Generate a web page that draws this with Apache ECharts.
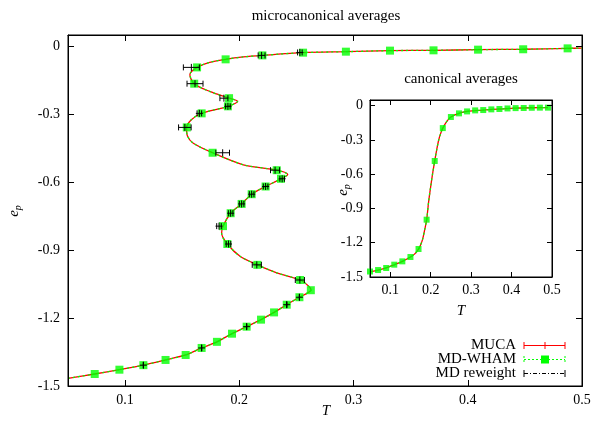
<!DOCTYPE html>
<html><head><meta charset="utf-8">
<script src="https://cdn.jsdelivr.net/npm/echarts@6/dist/echarts.min.js"></script>
<style>html,body{margin:0;padding:0;background:#fff}#c{width:594px;height:425px}</style>
</head><body><div id="c"></div>
<script>
// ---- tick labels ----
const xTicks = [0.1, 0.2, 0.3, 0.4, 0.5];
const xTickLabels = ['0.1', '0.2', '0.3', '0.4', '0.5'];
const yTicks = [-1.5, -1.2, -0.9, -0.6, -0.3, 0];
const yTickLabels = ['-1.5', '-1.2', '-0.9', '-0.6', '-0.3', '0'];

// ---- microcanonical: MUCA curve (T, e_p) ----
const mucaT = [0.050,0.0734,0.095,0.116,0.1354,0.153,0.167,0.1804,0.1936,0.2064,0.219,0.2304,0.2415,0.2526,0.2595,0.2628,0.2605,0.2532,0.2327,0.2158,0.2006,0.1895,0.1845,0.1857,0.1924,0.202,0.2108,0.223,0.2365,0.2424,0.2327,0.2035,0.1766,0.1597,0.1545,0.1538,0.158,0.167,0.190,0.1985,0.191,0.174,0.1605,0.1567,0.163,0.174,0.188,0.2035,0.2202,0.2558,0.2933,0.3319,0.370,0.409,0.4485,0.4874,0.500];
const mucaE = [-1.466,-1.447,-1.428,-1.408,-1.385,-1.363,-1.332,-1.305,-1.269,-1.238,-1.207,-1.175,-1.141,-1.108,-1.090,-1.076,-1.058,-1.032,-1.000,-0.965,-0.927,-0.873,-0.826,-0.794,-0.737,-0.696,-0.653,-0.619,-0.585,-0.566,-0.547,-0.523,-0.470,-0.428,-0.395,-0.360,-0.324,-0.296,-0.265,-0.243,-0.229,-0.199,-0.165,-0.125,-0.093,-0.071,-0.0575,-0.047,-0.040,-0.028,-0.0236,-0.019,-0.0177,-0.0147,-0.013,-0.009,-0.008];

// ---- microcanonical: MD-WHAM points ----
const whamT = [0.0734,0.095,0.116,0.1354,0.153,0.167,0.1804,0.1936,0.2064,0.219,0.2304,0.2415,0.2526,0.2626,0.2532,0.2158,0.1895,0.1857,0.1924,0.202,0.2108,0.223,0.2365,0.2327,0.1766,0.154,0.167,0.190,0.191,0.1605,0.163,0.188,0.2202,0.2558,0.2933,0.3319,0.370,0.409,0.4485,0.4874];
const whamE = [-1.447,-1.428,-1.408,-1.385,-1.363,-1.332,-1.305,-1.269,-1.238,-1.207,-1.175,-1.141,-1.108,-1.077,-1.032,-0.965,-0.873,-0.794,-0.737,-0.696,-0.653,-0.619,-0.585,-0.547,-0.470,-0.358,-0.296,-0.265,-0.229,-0.165,-0.093,-0.0575,-0.040,-0.028,-0.0236,-0.019,-0.0177,-0.0147,-0.013,-0.009];

// ---- microcanonical: MD reweight points with T error ----
const rwT   = [0.116,0.167,0.2064,0.2415,0.2526,0.253,0.2153,0.1905,0.1822,0.1924,0.202,0.2108,0.223,0.2375,0.2313,0.1854,0.1523,0.165,0.190,0.1865,0.1612,0.158,0.2195,0.253];
const rwE   = [-1.408,-1.332,-1.238,-1.141,-1.108,-1.032,-0.965,-0.873,-0.794,-0.737,-0.696,-0.653,-0.619,-0.585,-0.547,-0.470,-0.358,-0.296,-0.265,-0.229,-0.165,-0.093,-0.040,-0.027];
const rwErr = [0,0,0,0,0,0.004,0.004,0.002,0.002,0.002,0.002,0.002,0.002,0.002,0.004,0.006,0.0055,0.002,0.002,0.0035,0.007,0.007,0.003,0.002];

// ---- canonical (inset) ----
const canonT = [0.05,0.07,0.09,0.11,0.13,0.15,0.17,0.19,0.21,0.23,0.25,0.27,0.29,0.31,0.33,0.35,0.37,0.39,0.41,0.43,0.45,0.47,0.49];
const canonWham = [-1.452,-1.439,-1.421,-1.392,-1.363,-1.325,-1.255,-0.998,-0.484,-0.196,-0.099,-0.067,-0.050,-0.041,-0.038,-0.032,-0.029,-0.024,-0.021,-0.020,-0.018,-0.017,-0.017];
const canonMucaT = [0.05,0.07,0.09,0.11,0.13,0.15,0.16,0.17,0.175,0.18,0.185,0.19,0.195,0.20,0.205,0.21,0.215,0.22,0.225,0.23,0.24,0.25,0.27,0.29,0.33,0.37,0.41,0.45,0.49];
const canonMucaE = [-1.455,-1.440,-1.421,-1.393,-1.363,-1.325,-1.300,-1.255,-1.220,-1.170,-1.090,-1.000,-0.840,-0.710,-0.590,-0.484,-0.385,-0.298,-0.240,-0.196,-0.137,-0.099,-0.067,-0.050,-0.038,-0.029,-0.021,-0.018,-0.017];

const serif = '"Liberation Serif", "DejaVu Serif", serif';
const RED = '#ff0000', GREEN = '#00ff00';

function labelOf(ticks, labels) {
  return v => { const i = ticks.findIndex(t => Math.abs(t - v) < 1e-9); return i >= 0 ? labels[i] : ''; };
}
function mkX(grid, pos, showLabel, tickLen, margin) {
  return { type: 'value', gridIndex: grid, position: pos, min: 0.05, max: 0.5, z: 10,
    axisLine: { show: true, onZero: false, lineStyle: { color: '#000', width: 1 } },
    axisTick: { show: true, inside: true, length: tickLen, customValues: xTicks, lineStyle: { color: '#000', width: 1 } },
    axisLabel: { show: showLabel, customValues: xTicks, formatter: labelOf(xTicks, xTickLabels), color: '#000', fontFamily: serif, fontSize: 14, margin: margin },
    splitLine: { show: false } };
}
function mkY(grid, pos, showLabel, tickLen, margin) {
  return { type: 'value', gridIndex: grid, position: pos, min: -1.5, max: 0.05, z: 10,
    axisLine: { show: true, onZero: false, lineStyle: { color: '#000', width: 1 } },
    axisTick: { show: true, inside: true, length: tickLen, customValues: yTicks, lineStyle: { color: '#000', width: 1 } },
    axisLabel: { show: showLabel, customValues: yTicks, formatter: labelOf(yTicks, yTickLabels), color: '#000', fontFamily: serif, fontSize: 14, margin: margin },
    splitLine: { show: false } };
}

function errRender(params, api) {
  const t = api.value(0), e = api.value(1), d = api.value(2);
  const c = api.coord([t, e]), l = api.coord([t - d, e]), r = api.coord([t + d, e]);
  const cap = 3, arm = 3.5;
  const x0 = Math.min(l[0], c[0] - arm), x1 = Math.max(r[0], c[0] + arm);
  const st = { stroke: '#000', lineWidth: 1, fill: null };
  return { type: 'group', children: [
    { type: 'line', shape: { x1: x0, y1: c[1], x2: x1, y2: c[1] }, style: st },
    { type: 'line', shape: { x1: l[0], y1: c[1] - cap, x2: l[0], y2: c[1] + cap }, style: st },
    { type: 'line', shape: { x1: r[0], y1: c[1] - cap, x2: r[0], y2: c[1] + cap }, style: st },
    { type: 'line', shape: { x1: c[0], y1: c[1] - arm, x2: c[0], y2: c[1] + arm }, style: st }
  ] };
}

const txt = (x, y, text, extra) => ({ type: 'text', x: x, y: y, z: 100,
  style: Object.assign({ text: text, fill: '#000', font: '15px ' + serif, align: 'center', verticalAlign: 'middle' }, extra || {}) });
const ep = (x, y) => ({ type: 'text', x: x, y: y, rotation: Math.PI / 2, z: 100,
  style: { text: '{e|e}{p|p}', align: 'center', verticalAlign: 'middle',
    rich: { e: { fontFamily: serif, fontStyle: 'italic', fontSize: 15, fill: '#000', lineHeight: 18, verticalAlign: 'middle' },
            p: { fontFamily: serif, fontStyle: 'italic', fontSize: 10, fill: '#000', lineHeight: 18, verticalAlign: 'bottom' } } } });
const seg = (x1, y1, x2, y2, color, dash) => ({ type: 'line', z: 100, shape: { x1, y1, x2, y2 },
  style: { stroke: color, lineWidth: 1, lineDash: dash || null } });

const LX0 = 524, LX1 = 565, LXM = 545;
const graphics = [
  // frame of the main plot box
  { type: 'rect', z: 50, silent: true, shape: { x: 68.5, y: 35.5, width: 514, height: 351 }, style: { fill: null, stroke: '#000', lineWidth: 1 } },
  txt(326, 16, 'microcanonical averages'),
  txt(461, 79, 'canonical averages'),
  txt(326, 411, 'T', { font: 'italic 15px ' + serif }),
  txt(461, 311, 'T', { font: 'italic 15px ' + serif }),
  ep(14, 211), ep(343, 190),
  // legend
  txt(516, 345, 'MUCA', { align: 'right' }),
  txt(516, 359.5, 'MD-WHAM', { align: 'right' }),
  txt(516, 373.5, 'MD reweight', { align: 'right' }),
  seg(LX0, 345.5, LX1, 345.5, RED), seg(LX0, 342, LX0, 349, RED), seg(LX1, 342, LX1, 349, RED), seg(LXM, 342, LXM, 349, RED),
  seg(LX0, 359.5, LX1, 359.5, GREEN, [2, 2]), seg(LX0, 356, LX0, 363, GREEN, [2, 2]), seg(LX1, 356, LX1, 363, GREEN, [2, 2]),
  { type: 'rect', z: 101, shape: { x: LXM - 4, y: 355.5, width: 8, height: 8 }, style: { fill: GREEN } },
  seg(LX0, 373.5, LX1, 373.5, '#000', [4, 2, 1, 2]), seg(LX0, 370, LX0, 377, '#000'), seg(LX1, 370, LX1, 377, '#000')
];

const option = {
  animation: false,
  backgroundColor: '#fff',
  grid: [
    { left: 68, right: 12, top: 35, bottom: 39, outerBoundsMode: 'none', containLabel: false,
      show: true, backgroundColor: 'transparent', borderColor: '#000', borderWidth: 1, z: 0 },
    { left: 370, right: 42, top: 100, bottom: 148, outerBoundsMode: 'none', containLabel: false,
      show: true, backgroundColor: '#fff', borderColor: '#000', borderWidth: 1, z: 1 }
  ],
  xAxis: [ mkX(0, 'bottom', true, 6, 7), mkX(0, 'top', false, 6, 7), mkX(1, 'bottom', true, 5, 6), mkX(1, 'top', false, 5, 6) ],
  yAxis: [ mkY(0, 'left', true, 6, 8), mkY(0, 'right', false, 6, 8), mkY(1, 'left', true, 5, 7), mkY(1, 'right', false, 5, 7) ],
  graphic: graphics,
  series: [
    { name: 'MUCA', type: 'line', xAxisIndex: 0, yAxisIndex: 0, smooth: 0.3, showSymbol: false, z: 2,
      data: mucaT.map((t, i) => [t, mucaE[i]]), lineStyle: { color: RED, width: 1.3 } },
    { name: 'MD-WHAM line', type: 'line', xAxisIndex: 0, yAxisIndex: 0, smooth: 0.3, showSymbol: false, z: 3,
      data: mucaT.map((t, i) => [t, mucaE[i]]), lineStyle: { color: GREEN, width: 1.3, type: [2, 3] } },
    { name: 'MD-WHAM', type: 'scatter', xAxisIndex: 0, yAxisIndex: 0, symbol: 'rect', symbolSize: 8, z: 4,
      data: whamT.map((t, i) => [t, whamE[i]]), itemStyle: { color: GREEN } },
    { name: 'MD reweight', type: 'custom', xAxisIndex: 0, yAxisIndex: 0, z: 5, renderItem: errRender,
      data: rwT.map((t, i) => [t, rwE[i], rwErr[i]]) },
    { name: 'MUCA canonical', type: 'line', xAxisIndex: 2, yAxisIndex: 2, smooth: 0.3, showSymbol: false, z: 6,
      data: canonMucaT.map((t, i) => [t, canonMucaE[i]]), lineStyle: { color: RED, width: 1.3 } },
    { name: 'MD-WHAM canonical line', type: 'line', xAxisIndex: 2, yAxisIndex: 2, smooth: 0.3, showSymbol: false, z: 7,
      data: canonMucaT.map((t, i) => [t, canonMucaE[i]]), lineStyle: { color: GREEN, width: 1.3, type: [2, 3] } },
    { name: 'MD-WHAM canonical', type: 'scatter', xAxisIndex: 2, yAxisIndex: 2, symbol: 'rect', symbolSize: 6, z: 8,
      data: canonT.map((t, i) => [t, canonWham[i]]), itemStyle: { color: GREEN } }
  ]
};
const chart = echarts.init(document.getElementById('c'), null, { renderer: 'canvas' });
chart.setOption(option);
</script>
</body></html>
